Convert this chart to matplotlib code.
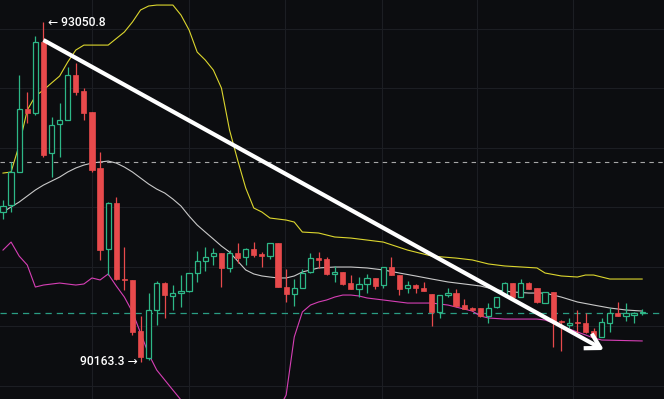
import matplotlib
matplotlib.use("Agg")
import matplotlib.pyplot as plt
from matplotlib.patches import Rectangle

# ---- colours ----
BG    = "#0c0d10"
GRID  = "#1c1e23"
UP    = "#2db787"
DOWN  = "#e84a4c"

# ---- candles (one per bar, left to right) ----
OPEN = [91437, 91497, 91777, 92312, 92278, 92881, 91938, 92185, 92219, 92601,
        92465, 92286, 91811, 91123, 91514, 90868, 90860, 90426, 90197, 90605,
        90834, 90724, 90749, 90766, 90919, 91021, 91063, 91089, 90962, 91089,
        91055, 91123, 91080, 91063, 91174, 90800, 90741, 90792, 90928, 91046,
        91038, 90911, 90928, 90834, 90783, 90826, 90877, 90817, 90970, 90902,
        90792, 90817, 90792, 90741, 90588, 90732, 90749, 90647, 90622, 90622,
        90554, 90630, 90732, 90834, 90715, 90834, 90792, 90664, 90758, 90511,
        90477, 90503, 90494, 90426, 90376, 90494, 90579, 90554, 90562, 90579]
HIGH = [91539, 91862, 92601, 92456, 92932, 93050.8, 92244, 92363, 92669, 92703,
        92490, 92286, 91947, 91522, 91565, 91140, 90860, 90554, 90749, 90851,
        90843, 90817, 90902, 90919, 91106, 91140, 91131, 91089, 91114, 91174,
        91131, 91182, 91097, 91174, 91174, 90953, 90868, 90953, 91089, 91097,
        91055, 90979, 90928, 90902, 90885, 90911, 90877, 90970, 91055, 90902,
        90851, 90826, 90843, 90741, 90732, 90792, 90783, 90698, 90630, 90622,
        90664, 90715, 90843, 90834, 90868, 90843, 90792, 90758, 90758, 90520,
        90537, 90605, 90579, 90452, 90537, 90622, 90673, 90664, 90588, 90613]
LOW = [91378, 91437, 91777, 92193, 92261, 91904, 91734, 91904, 92219, 92431,
       92219, 91777, 91030, 90902, 90860, 90775, 90393, 90163.3, 90180, 90477,
       90537, 90605, 90630, 90758, 90843, 90936, 90987, 90800, 90928, 91004,
       90987, 91055, 90970, 91038, 90800, 90673, 90639, 90792, 90919, 90962,
       90902, 90843, 90817, 90783, 90715, 90749, 90783, 90792, 90902, 90732,
       90749, 90749, 90766, 90469, 90537, 90715, 90630, 90613, 90596, 90545,
       90494, 90622, 90715, 90715, 90715, 90783, 90664, 90664, 90291, 90257,
       90452, 90410, 90410, 90376, 90376, 90418, 90554, 90511, 90494, 90562]
CLOSE = [91488, 91777, 92312, 92278, 92881, 91921, 92176, 92219, 92601, 92456,
         92278, 91794, 91114, 91514, 90868, 90860, 90418, 90206, 90605, 90834,
         90732, 90749, 90766, 90919, 91021, 91055, 91089, 90962, 91089, 91046,
         91123, 91072, 91063, 91174, 90800, 90741, 90792, 90919, 91046, 91030,
         90911, 90928, 90826, 90783, 90826, 90877, 90809, 90970, 90902, 90783,
         90817, 90792, 90766, 90588, 90732, 90749, 90639, 90613, 90605, 90554,
         90622, 90715, 90834, 90715, 90834, 90783, 90673, 90758, 90503, 90503,
         90494, 90494, 90418, 90376, 90503, 90579, 90554, 90579, 90579, 90588]

UPPER_IDX = [0, 1, 2, 3, 4, 5, 6, 7, 8, 9, 10, 12, 13, 15, 16, 17, 18, 19, 21, 22,
             23, 24, 25, 26, 27, 28, 29, 30, 31, 32, 33, 35, 36, 37, 39, 41, 43, 47, 50, 53,
             56, 58, 60, 62, 66, 67, 69, 71, 72, 73, 74, 75, 79]
UPPER = [91768, 91777, 92006, 92303, 92422, 92473, 92533, 92592, 92711, 92813,
         92855, 92855, 92855, 92966, 93051, 93153, 93187, 93195, 93195, 93110,
         92983, 92796, 92728, 92643, 92490, 92134, 91879, 91641, 91471, 91437,
         91386, 91369, 91352, 91267, 91259, 91225, 91216, 91182, 91114, 91063,
         91046, 91030, 90996, 90979, 90962, 90919, 90894, 90885, 90902, 90902,
         90885, 90868, 90868]

MID_IDX = list(range(40)) + list(range(41, 80, 2))
MID = [91437, 91480, 91522, 91573, 91624, 91666, 91700, 91734, 91777, 91811,
       91836, 91853, 91862, 91870, 91853, 91819, 91777, 91726, 91675, 91632,
       91598, 91547, 91488, 91403, 91327, 91267, 91208, 91148, 91097, 91021,
       90945, 90911, 90894, 90885, 90877, 90877, 90894, 90928, 90945, 90962,
       90970, 90970, 90962, 90945, 90919, 90894, 90868, 90843, 90826, 90809,
       90775, 90758, 90749, 90749, 90715, 90673, 90647, 90622, 90605, 90596]

LOWER_IDX = [0, 1, 2, 3, 4, 5, 7, 9, 10, 11, 12, 13, 14, 15, 16, 17, 18, 19, 20, 21,
             22, 23, 25, 28, 31, 33, 34, 35, 36, 37, 38, 39, 40, 41, 42, 43, 44, 45, 47, 50,
             53, 55, 57, 58, 59, 60, 62, 66, 67, 68, 69, 71, 72, 73, 74, 79]
LOWER = [91114, 91182, 91063, 90987, 90800, 90817, 90834, 90817, 90826, 90877,
         90860, 90911, 90809, 90715, 90588, 90410, 90231, 90095, 90010, 89925,
         89841, 89756, 89628, 89543, 89543, 89628, 89756, 89883, 90376, 90588,
         90647, 90673, 90690, 90715, 90732, 90732, 90724, 90707, 90690, 90664,
         90664, 90647, 90613, 90596, 90554, 90537, 90528, 90528, 90520, 90494,
         90469, 90418, 90393, 90367, 90350, 90342]

# ---- reference lines / grid ----
LAST_PRICE = 91862   # white dashed
TEAL_PRICE = 90579   # teal dashed
GRID_Y = [92991, 92490, 91981, 91480, 90970, 90469, 89960]
GRID_X = [11.0, 23.0, 34.9, 46.8, 58.6, 70.5]

# trend arrow (bar index, price)
ARROW_FROM = (5.0, 92898)
ARROW_TO   = (74.3, 90265)

XLIM = (-0.37, 81.7)
YLIM = (89849, 93238)

# ============================================================

fig = plt.figure(figsize=(6.64, 3.99), dpi=100)
fig.patch.set_facecolor(BG)
ax = fig.add_axes([0, 0, 1, 1])
ax.set_facecolor(BG)
ax.set_xlim(*XLIM)
ax.set_ylim(*YLIM)
for sp in ax.spines.values():
    sp.set_visible(False)
ax.set_xticks([])
ax.set_yticks([])

for gy in GRID_Y:
    ax.axhline(gy, color=GRID, lw=0.8, zorder=0)
for gx in GRID_X:
    ax.axvline(gx, color=GRID, lw=0.8, zorder=0)

ax.axhline(LAST_PRICE, color="#a8a8a8", lw=0.8, ls=(0, (4, 4)), zorder=1)
ax.axhline(TEAL_PRICE, color="#2a9d84", lw=0.9, ls=(0, (5, 4)), zorder=1)

# bands
ax.plot(UPPER_IDX, UPPER, color="#dcd62e", lw=0.8, zorder=2)
ax.plot(MID_IDX, MID, color="#c9c9c9", lw=0.8, zorder=2)
ax.plot(LOWER_IDX, LOWER, color="#d63fb5", lw=0.8, zorder=2)

# candles
w = 0.64
min_h = (YLIM[1] - YLIM[0]) / 399 * 1.0
for i, (o, h, l, c) in enumerate(zip(OPEN, HIGH, LOW, CLOSE)):
    up = c >= o
    col = UP if up else DOWN
    ax.vlines(i, l, h, color=col, lw=0.9, zorder=3)
    bottom = min(o, c)
    height = max(abs(c - o), min_h)
    if up:
        ax.add_patch(Rectangle((i - w / 2, bottom), w, height, facecolor=BG,
                               edgecolor=col, lw=0.9, zorder=4))
    else:
        ax.add_patch(Rectangle((i - w / 2, bottom), w, height, facecolor=col,
                               edgecolor=col, lw=0.5, zorder=4))

# trend arrow
ax.annotate("", xy=ARROW_TO, xytext=ARROW_FROM,
            arrowprops=dict(arrowstyle="->,head_length=1.05,head_width=0.6",
                            color="white", lw=3, shrinkA=0, shrinkB=0,
                            capstyle="butt"),
            zorder=6)

# high / low labels
hi_i = HIGH.index(max(HIGH))
lo_i = LOW.index(min(LOW))
fam = ["Roboto", "DejaVu Sans"]
ax.annotate(f"\u2190 {HIGH[hi_i]:.1f}", xy=(hi_i, HIGH[hi_i]), xytext=(3, 0),
            textcoords="offset points", ha="left", va="center",
            color="white", fontsize=8.7, weight="medium", family=fam, zorder=7)
ax.annotate(f"{LOW[lo_i]:.1f} \u2192", xy=(lo_i, LOW[lo_i]), xytext=(-2, 0),
            textcoords="offset points", ha="right", va="center",
            color="white", fontsize=8.7, weight="medium", family=fam, zorder=7)

fig.savefig("out.png", dpi=100, facecolor=BG)
